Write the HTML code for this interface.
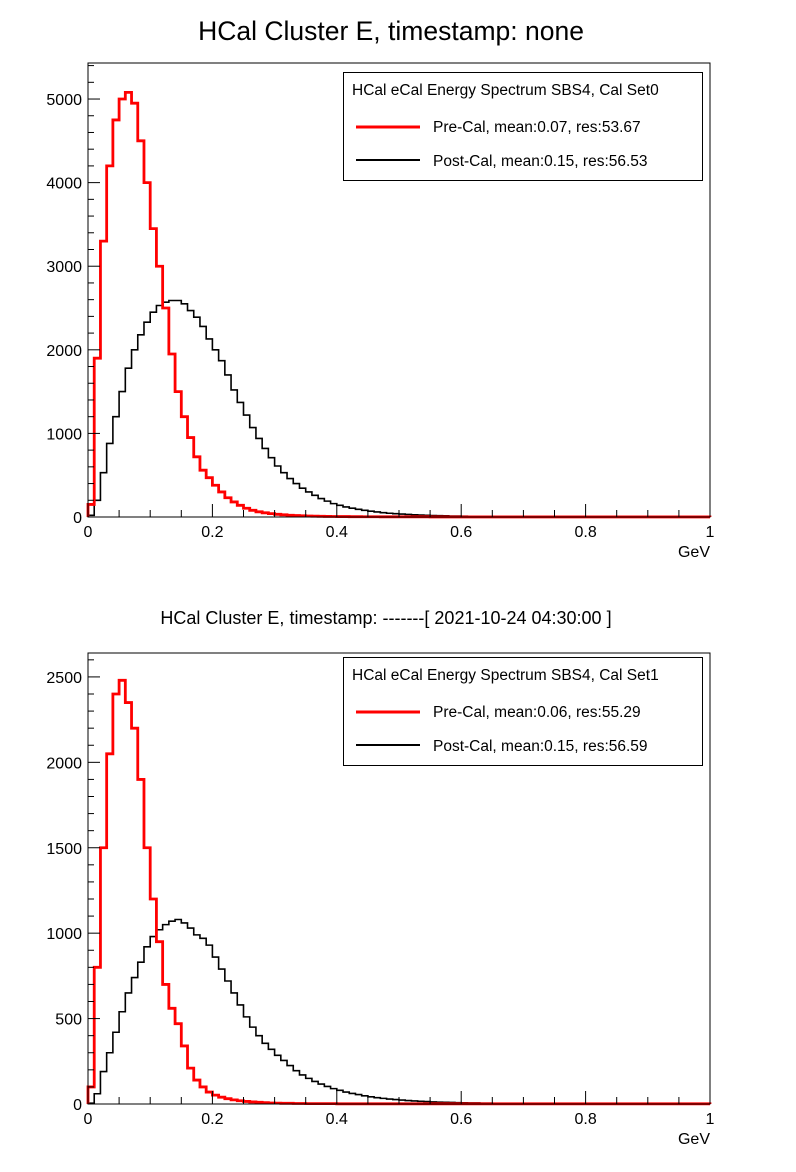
<!DOCTYPE html>
<html><head><meta charset="utf-8"><style>
body{margin:0;background:#fff;}
svg{display:block;font-family:"Liberation Sans",sans-serif;}
</style></head><body>
<svg id="c" width="796" height="1172" xmlns="http://www.w3.org/2000/svg">
<rect width="796" height="1172" fill="#fff"/>
<text x="391" y="40" font-size="26.5" text-anchor="middle">HCal Cluster E, timestamp: none</text>
<text x="386" y="624" font-size="18" text-anchor="middle">HCal Cluster E, timestamp: -------[ 2021-10-24 04:30:00 ]</text>
</svg>
<script>
const topRed=[150,1900,3300,4200,4750,5000,5080,4950,4500,4000,3450,3000,2500,1950,1500,1200,950,720,560,470,380,300,230,180,140,105,80,62,50,40,32,26,21,17,14,12,10,8,7,6,5,5,4,4,3,3,3,2,2,2,2,2,2,2,2,1,1,1,1,1,1,1,1,1,1,1,1,1,1,1,1,1,1,1,1,1,1,1,1,1,1,1,1,1,1,1,1,1,1,1,1,1,1,1,1,1,1,1,1,1];
const topBlack=[20,200,530,880,1200,1500,1780,2000,2180,2330,2450,2530,2570,2590,2590,2550,2470,2390,2280,2130,2000,1870,1700,1520,1370,1220,1070,940,820,710,610,530,460,400,345,300,260,220,190,160,140,120,105,92,80,70,60,52,45,40,35,31,27,24,21,18,16,14,12,11,10,9,8,7,6,6,5,5,4,4,3,3,3,3,3,2,2,2,2,2,2,2,2,2,2,2,2,2,2,2,2,2,2,2,2,2,2,2,3,4];
const botRed=[100,800,1500,2050,2400,2480,2350,2200,1900,1500,1200,950,700,560,470,340,210,140,100,70,52,40,31,24,19,15,12,10,8,6,5,4,4,3,3,2,2,2,2,2,1,1,1,1,1,1,1,1,1,1,1,1,1,1,1,1,1,1,1,1,1,1,1,1,1,1,1,1,1,1,1,1,1,1,1,1,1,1,1,1,1,1,1,1,1,1,1,1,1,1,1,1,1,1,1,1,1,1,1,1];
const botBlack=[5,60,190,300,420,540,650,740,830,920,980,1020,1050,1070,1080,1060,1030,990,970,930,860,790,720,650,580,510,450,400,355,320,285,255,225,195,170,150,132,117,103,90,80,70,62,55,48,42,37,33,29,26,23,20,18,16,14,12,11,10,9,8,7,6,6,5,5,4,4,3,3,3,2,2,2,2,2,2,2,2,2,2,2,2,2,2,2,2,2,2,2,2,2,2,2,2,2,2,2,2,3,4];
const xTicks=[0,0.2,0.4,0.6,0.8,1];
const xTickLabels=["0","0.2","0.4","0.6","0.8","1"];
const topYTicks=[0,1000,2000,3000,4000,5000];
const botYTicks=[0,500,1000,1500,2000,2500];
const topLegend=["HCal eCal Energy Spectrum SBS4, Cal Set0","Pre-Cal, mean:0.07, res:53.67","Post-Cal, mean:0.15, res:56.53"];
const botLegend=["HCal eCal Energy Spectrum SBS4, Cal Set1","Pre-Cal, mean:0.06, res:55.29","Post-Cal, mean:0.15, res:56.59"];
const NS="http://www.w3.org/2000/svg";
const svg=document.getElementById('c');
function mk(tag,attrs,parent){const e=document.createElementNS(NS,tag);for(const k in attrs)e.setAttribute(k,attrs[k]);(parent||svg).appendChild(e);return e;}
function panel(name,top,bottom,ymax,yTicks,yMinor,red,black,legend,legTop){
  const L=88,R=710;
  const g=mk('g',{});
  
  
  const xs=v=>L+(R-L)*v;
  const ys=v=>bottom-(bottom-top)*v/ymax;
  function hist(arr,color,w,nm){
    const bw=1/arr.length;let d='M'+xs(0)+','+ys(0);
    arr.forEach((v,i)=>{d+=' L'+xs(i*bw)+','+ys(v)+' L'+xs((i+1)*bw)+','+ys(v);});
    d+=' L'+xs(1)+','+ys(0);
    const p=mk('path',{d:d,fill:'none',stroke:color,'stroke-width':w},g);
    
    
  }
  hist(black,'#000',1.6,name+'-post-cal-histogram');
  hist(red,'#ff0000',2.8,name+'-pre-cal-histogram');
  const fr=mk('rect',{x:L,y:top,width:R-L,height:bottom-top,fill:'none',stroke:'#000','stroke-width':1},g);
  
  
  for(let k=0;k<=20;k++){const v=k*0.05;const len=(k%4===0)?13:7;
    mk('line',{x1:xs(v),x2:xs(v),y1:bottom,y2:bottom-len,stroke:'#000'},g);}
  xTicks.forEach((v,i)=>{const t=mk('text',{x:xs(v),y:bottom+20,'font-size':16,'text-anchor':'middle'},g);t.textContent=xTickLabels[i];
    
    });
  const gv=mk('text',{x:R,y:bottom+40,'font-size':16,'text-anchor':'end'},g);gv.textContent='GeV';
  
  
  for(let v=0;v<=ymax;v+=yMinor){const major=(v%(yMinor*5)===0);
    mk('line',{x1:L,x2:L+(major?12:6),y1:ys(v),y2:ys(v),stroke:'#000'},g);}
  yTicks.forEach(v=>{const t=mk('text',{x:L-6,y:ys(v)+6,'font-size':16,'text-anchor':'end'},g);t.textContent=String(v);
    
    });
  const lg=mk('g',{},g);
  
  
  mk('rect',{x:343.5,y:legTop+0.5,width:359,height:108,fill:'#fff',stroke:'#000'},lg);
  const h=mk('text',{x:352,y:legTop+23,'font-size':15.5},lg);h.textContent=legend[0];
  mk('line',{x1:356,x2:420,y1:legTop+55,y2:legTop+55,stroke:'#ff0000','stroke-width':3},lg);
  const a=mk('text',{x:433,y:legTop+60,'font-size':15.5},lg);a.textContent=legend[1];
  mk('line',{x1:356,x2:420,y1:legTop+88,y2:legTop+88,stroke:'#000','stroke-width':2},lg);
  const b=mk('text',{x:433,y:legTop+94,'font-size':15.5},lg);b.textContent=legend[2];
}
panel('top',63,517,5431,topYTicks,200,topRed,topBlack,topLegend,72);
panel('bottom',653,1104,2640,botYTicks,100,botRed,botBlack,botLegend,657);
</script>
</body></html>
